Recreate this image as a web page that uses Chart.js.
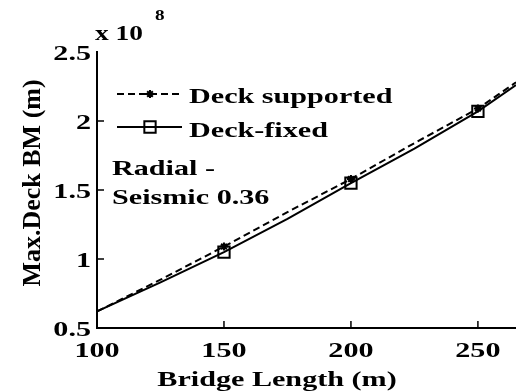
<!DOCTYPE html>
<html>
<head>
<meta charset="utf-8">
<script src="https://cdn.jsdelivr.net/npm/chart.js@4/dist/chart.umd.min.js"></script>
<style>
  html, body { margin: 0; padding: 0; background: #fff; }
  canvas { display: block; }
</style>
</head>
<body>
<canvas id="bmChart" width="516" height="391"></canvas>
<script>
// values (moment in units of 1e8)
const bridgeLength = [100, 125, 150, 175, 200, 225, 250, 265];
const deckSupported = [0.62, 0.85, 1.09, 1.34, 1.58, 1.84, 2.09, 2.28];
const deckFixed = [0.62, 0.83, 1.05, 1.29, 1.55, 1.80, 2.07, 2.26];
const markerAt = [150, 200, 250];
const xTicks = [100, 150, 200, 250];
const yTicks = [0.5, 1, 1.5, 2, 2.5];

const FONT = '"Liberation Serif", "Times New Roman", serif';
const SX = 1.37; // source text is stretched horizontally

const toPoints = vals => bridgeLength.map((x, i) => ({ x: x, y: vals[i] }));
const markerRadius = r => ctx => markerAt.includes(bridgeLength[ctx.dataIndex]) ? r : 0;

function text(ctx, str, x, y, size, align, sx) {
  ctx.save();
  ctx.font = 'bold ' + size + 'px ' + FONT;
  ctx.fillStyle = '#000';
  ctx.textAlign = align;
  ctx.textBaseline = 'alphabetic';
  ctx.translate(x, y);
  ctx.scale(sx, 1);
  ctx.fillText(str, 0, 0);
  ctx.restore();
}

const decorations = {
  id: 'decorations',
  afterDraw(chart) {
    const ctx = chart.ctx;
    const xs = chart.scales.x, ys = chart.scales.y;
    const area = chart.chartArea;

    // inward tick marks
    ctx.save();
    ctx.strokeStyle = '#000';
    ctx.lineWidth = 1.5;
    ctx.beginPath();
    xTicks.slice(1).forEach(v => {
      const px = xs.getPixelForValue(v);
      ctx.moveTo(px, area.bottom);
      ctx.lineTo(px, area.bottom - 7);
    });
    yTicks.slice(1, -1).forEach(v => {
      const py = ys.getPixelForValue(v);
      ctx.moveTo(area.left, py);
      ctx.lineTo(area.left + 7, py);
    });
    ctx.stroke();
    ctx.restore();

    // tick labels
    xTicks.forEach(v => text(ctx, String(v), xs.getPixelForValue(v), area.bottom + 29, 22, 'center', SX));
    yTicks.forEach(v => text(ctx, String(v), area.left - 6, ys.getPixelForValue(v) + 8, 22, 'right', SX));

    // axis titles
    text(ctx, 'Bridge Length (m)', 277, 386, 22, 'center', SX);
    ctx.save();
    ctx.translate(40, 183);
    ctx.rotate(-Math.PI / 2);
    text(ctx, 'Max.Deck BM (m)', 0, 0, 26, 'center', 1);
    ctx.restore();

    // exponent
    text(ctx, 'x 10', 95, 40, 20, 'left', SX);
    text(ctx, '8', 155, 20, 14, 'left', SX);

    // legend
    const rows = [
      { ds: chart.data.datasets[0], y: 94, base: 103 },
      { ds: chart.data.datasets[1], y: 127, base: 137 }
    ];
    rows.forEach(r => {
      ctx.save();
      ctx.strokeStyle = '#000';
      ctx.lineWidth = 2;
      ctx.setLineDash(r.ds.borderDash || []);
      ctx.beginPath();
      ctx.moveTo(117, r.y);
      ctx.lineTo(182, r.y);
      ctx.stroke();
      ctx.setLineDash([]);
      ctx.fillStyle = r.ds.pointBackgroundColor;
      Chart.helpers.drawPoint(ctx, {
        pointStyle: r.ds.pointStyle,
        radius: r.ds.legendRadius,
        borderWidth: 2
      }, 150, r.y);
      ctx.restore();
      text(ctx, r.ds.label, 189, r.base, 22, 'left', SX);
    });

    // note
    text(ctx, 'Radial -', 112, 175, 22, 'left', SX);
    text(ctx, 'Seismic 0.36', 112, 204, 22, 'left', SX);
  }
};

new Chart(document.getElementById('bmChart'), {
  type: 'line',
  data: {
    datasets: [
      {
        label: 'Deck supported',
        data: toPoints(deckSupported),
        borderColor: '#000',
        borderWidth: 2,
        borderDash: [7, 4],
        pointStyle: 'star',
        pointRadius: markerRadius(4),
        legendRadius: 4,
        pointBorderColor: '#000',
        pointBackgroundColor: '#000',
        pointBorderWidth: 2,
        tension: 0
      },
      {
        label: 'Deck-fixed',
        data: toPoints(deckFixed),
        borderColor: '#000',
        borderWidth: 2,
        pointStyle: 'rect',
        pointRadius: markerRadius(8),
        legendRadius: 8,
        pointBorderColor: '#000',
        pointBackgroundColor: 'rgba(0,0,0,0)',
        pointBorderWidth: 2,
        tension: 0
      }
    ]
  },
  options: {
    responsive: false,
    animation: false,
    layout: { padding: { top: 52, left: 0, right: 0, bottom: 0 } },
    plugins: {
      legend: { display: false },
      tooltip: { enabled: false }
    },
    scales: {
      x: {
        type: 'linear',
        min: 100,
        max: 265,
        grid: { display: false },
        border: { display: true, color: '#000', width: 2 },
        ticks: { display: false },
        afterFit: s => { s.height = 63; }
      },
      y: {
        type: 'linear',
        min: 0.5,
        max: 2.5,
        grid: { display: false },
        border: { display: true, color: '#000', width: 2 },
        ticks: { display: false },
        afterFit: s => { s.width = 97; }
      }
    }
  },
  plugins: [decorations]
});
</script>
</body>
</html>
